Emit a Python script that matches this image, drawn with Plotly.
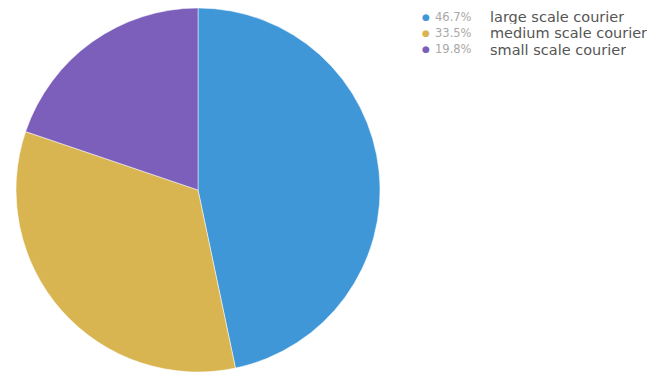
import plotly.graph_objects as go

labels = ["large scale courier", "medium scale courier", "small scale courier"]
values = [46.7, 33.5, 19.8]
colors = ["#3F97D8", "#D9B552", "#7B5FBB"]

W, H = 663, 380
OFF = 8  # page body margin offset

fig = go.Figure()
fig.add_trace(go.Pie(
    labels=labels,
    values=values,
    sort=False,
    direction="clockwise",
    rotation=0,
    textinfo="none",
    hoverinfo="label+percent",
    marker=dict(colors=colors, line=dict(color="white", width=0.5)),
    domain=dict(x=[(13 - OFF) / W, (383 - OFF) / W],
                y=[1 - (372 - OFF) / H, 1 - (8 - OFF) / H]),
    showlegend=False,
))

row_y = [17, 33, 49]
for i, (lab, val, col) in enumerate(zip(labels, values, colors)):
    yp = 1 - (row_y[i] - OFF) / H
    fig.add_annotation(x=(426 - OFF) / W, y=yp, xref="paper", yref="paper",
                       text="●", showarrow=False, xanchor="center", yanchor="middle",
                       height=14, borderpad=0,
                       font=dict(size=9, color=col, family="DejaVu Sans"))
    fig.add_annotation(x=(434 - OFF) / W, y=yp, xref="paper", yref="paper",
                       text=f"{val:.1f}%", showarrow=False, xanchor="left", yanchor="middle",
                       height=14, borderpad=0,
                       font=dict(size=11.5, color="#a8a8a8", family="DejaVu Sans"))
    fig.add_annotation(x=(489 - OFF) / W, y=yp, xref="paper", yref="paper",
                       text=lab, showarrow=False, xanchor="left", yanchor="middle",
                       height=15, borderpad=0,
                       font=dict(size=14.5, color="#555555", family="DejaVu Sans"))

fig.update_layout(
    width=W, height=H,
    margin=dict(l=0, r=0, t=0, b=0),
    paper_bgcolor="white",
    plot_bgcolor="white",
)

fig.write_html("out.html")
